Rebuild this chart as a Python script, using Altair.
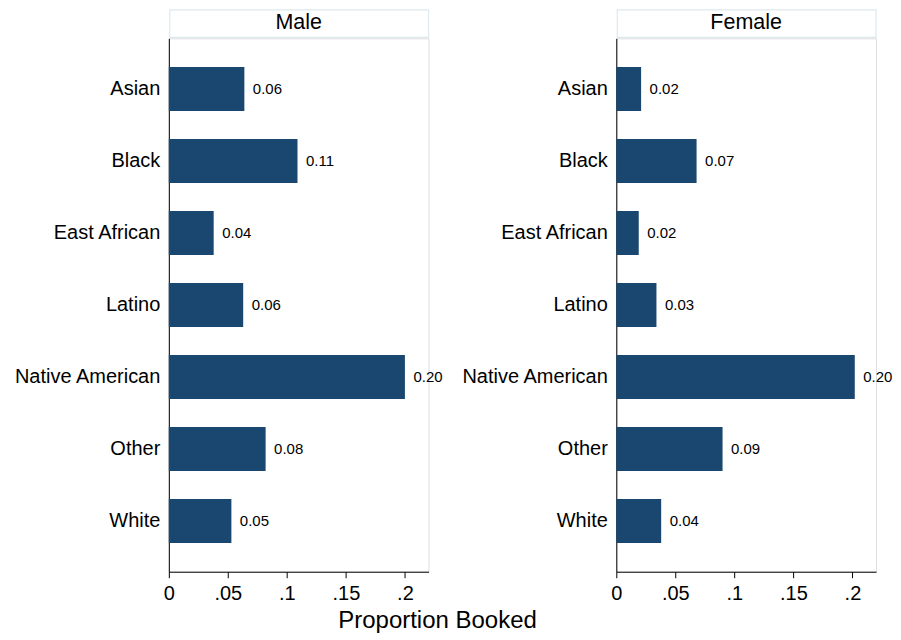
import altair as alt
import pandas as pd

groups = ["Asian", "Black", "East African", "Latino", "Native American", "Other", "White"]
male_vals = [0.064, 0.109, 0.038, 0.063, 0.200, 0.082, 0.053]
female_vals = [0.021, 0.068, 0.019, 0.034, 0.202, 0.090, 0.038]
panels = ["Male", "Female"]
x_ticks = [0, 0.05, 0.1, 0.15, 0.2]

FONT = "Liberation Sans"
BAR = "#1a476f"
W, H = 260, 534


def panel(name, vals, with_title):
    df = pd.DataFrame({"group": groups, "value": vals})
    df["label"] = [f"{v:.2f}" for v in vals]
    hdr = pd.DataFrame({"name": [name]})
    y = alt.Y("group:N", sort=groups, title=None,
              scale=alt.Scale(paddingInner=0.39, paddingOuter=0.4),
              axis=alt.Axis(ticks=False, labelPadding=9, labelFontSize=20,
                            labelFont=FONT, labelColor="black", domainColor="black",
                            labelLimit=300))
    x = alt.X("value:Q", title=None,
              scale=alt.Scale(domain=[0, 0.22], nice=False),
              axis=alt.Axis(values=x_ticks, labelExpr="replace(format(datum.value, '.2~f'), /^0\\./, '.')",
                            labelFontSize=20, labelFont=FONT, labelColor="black",
                            domainColor="black", tickColor="black", tickSize=6,
                            labelPadding=6, grid=False, labelFlush=False))
    base = alt.Chart(df)
    bars = base.mark_bar(color=BAR).encode(x=x, y=y)
    txt = base.mark_text(align="left", dx=8.5, fontSize=15, font=FONT, color="black").encode(
        x=alt.X("value:Q"), y=alt.Y("group:N", sort=groups), text="label:N")
    hbox = alt.Chart(hdr).mark_rect(fill="white", stroke="#dde9ee", strokeWidth=1.2).encode(
        x=alt.value(1), x2=alt.value(W), y=alt.value(-28.5), y2=alt.value(-1))
    htxt = alt.Chart(hdr).mark_text(fontSize=21.5, font=FONT, color="black", baseline="middle").encode(
        x=alt.value(W / 2), y=alt.value(-15), text="name:N")
    layers = [bars, txt, hbox, htxt]
    if with_title:
        tdf = pd.DataFrame({"t": ["Proportion Booked"]})
        ttl = alt.Chart(tdf).mark_text(fontSize=24, font=FONT, color="black", baseline="alphabetic").encode(
            x=alt.value(269), y=alt.value(590), text="t:N")
        layers.append(ttl)
    return alt.layer(*layers).properties(width=W, height=H)


chart = alt.hconcat(
    panel(panels[0], male_vals, True),
    panel(panels[1], female_vals, False),
    spacing=188,
    bounds="flush",
).configure_view(stroke=None).configure(
    padding={"left": 4, "top": 0, "right": 0, "bottom": 0}, font=FONT
)

chart.save("out.html", embed_options={"renderer": "svg", "actions": False})
